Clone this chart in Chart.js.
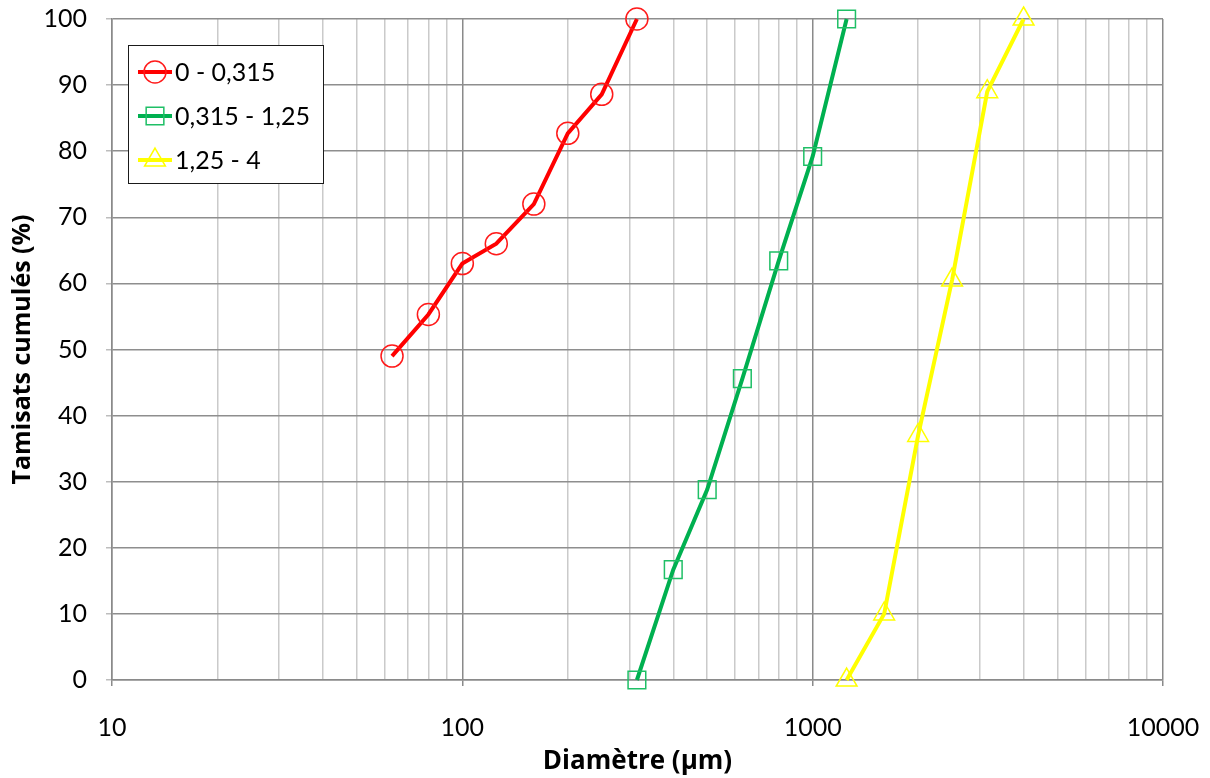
<!DOCTYPE html>
<html lang="fr">
<head>
<meta charset="utf-8">
<title>Courbes granulométriques</title>
<script src="https://cdn.jsdelivr.net/npm/chart.js@4/dist/chart.umd.min.js"></script>
<style>
  html, body { margin: 0; padding: 0; background: #ffffff; }
  #wrap { width: 1210px; height: 778px; position: relative; }
</style>
</head>
<body>
<div id="wrap"><canvas id="granulo" width="1210" height="778"></canvas></div>
<script>
// Sieve openings (µm) and cumulative passing (%) per sand fraction
const sieves1 = [63, 80, 100, 125, 160, 200, 250, 315];
const passing1 = [49, 55.3, 63, 66, 72, 82.7, 88.6, 100];

const sieves2 = [315, 400, 500, 630, 800, 1000, 1250];
const passing2 = [0, 16.7, 28.8, 45.6, 63.4, 79.2, 100];

const sieves3 = [1250, 1600, 2000, 2500, 3150, 4000];
const passing3 = [0, 10, 37, 60.5, 89, 100];

const seriesLabels = ['0 - 0,315', '0,315 - 1,25', '1,25 - 4'];

// Axis labelling
const xDecades = [10, 100, 1000, 10000];
const xTickLabels = ['10', '100', '1000', '10000'];
const xTitle = 'Diamètre (µm)';
const yTitle = 'Tamisats cumulés (%)';

// Log grid: 1..9 × each decade, up to the last decade
const xGridValues = [];
xDecades.forEach((d, i) => {
  if (i === xDecades.length - 1) { xGridValues.push(d); return; }
  for (let k = 1; k <= 9; k++) xGridValues.push(d * k);
});

const pairs = (xs, ys) => xs.map((x, i) => ({ x: x, y: ys[i] }));

const FONT = 'Lato, "Open Sans", "DejaVu Sans", sans-serif';
const TITLE_FONT = '"Open Sans", Lato, "DejaVu Sans", sans-serif';

// Legend box drawn inside the plot area (upper left)
const innerLegend = {
  id: 'innerLegend',
  afterDraw(chart) {
    const ctx = chart.ctx;
    const bx = 128.5, by = 45.5, bw = 195, bh = 138;
    ctx.save();
    ctx.fillStyle = '#ffffff';
    ctx.fillRect(bx, by, bw, bh);
    ctx.strokeStyle = '#1a1a1a';
    ctx.lineWidth = 1;
    ctx.strokeRect(bx, by, bw, bh);
    const rows = [72, 116, 160];
    chart.data.datasets.forEach((ds, i) => {
      const y = rows[i];
      ctx.strokeStyle = ds.borderColor;
      ctx.lineWidth = ds.borderWidth;
      ctx.beginPath();
      ctx.moveTo(138, y);
      ctx.lineTo(172, y);
      ctx.stroke();
      const opts = {
        pointStyle: ds.pointStyle,
        radius: ds.pointRadius,
        borderWidth: ds.pointBorderWidth,
        rotation: 0
      };
      ctx.strokeStyle = ds.pointBorderColor;
      ctx.fillStyle = 'rgba(0,0,0,0)';
      ctx.lineWidth = ds.pointBorderWidth;
      Chart.helpers.drawPoint(ctx, opts, 155, y);
      ctx.fillStyle = '#000000';
      ctx.font = '25px ' + FONT;
      ctx.textAlign = 'left';
      ctx.textBaseline = 'middle';
      ctx.fillText(ds.label, 175, y + 1);
    });
    ctx.restore();
  }
};

const baseSet = {
  showLine: true,
  clip: false,
  borderWidth: 4,
  pointBackgroundColor: 'rgba(0,0,0,0)',
  pointBorderWidth: 1.5,
  tension: 0
};

new Chart(document.getElementById('granulo'), {
  type: 'scatter',
  data: {
    datasets: [
      Object.assign({}, baseSet, {
        label: seriesLabels[0],
        data: pairs(sieves1, passing1),
        borderColor: '#ff0000',
        pointBorderColor: '#ff1a1a',
        pointStyle: 'circle',
        pointRadius: 11,
        pointHoverRadius: 11
      }),
      Object.assign({}, baseSet, {
        label: seriesLabels[1],
        data: pairs(sieves2, passing2),
        borderColor: '#00b050',
        pointBorderColor: '#1fbf66',
        pointStyle: 'rect',
        pointRadius: 12.5,
        pointHoverRadius: 12.5
      }),
      Object.assign({}, baseSet, {
        label: seriesLabels[2],
        data: pairs(sieves3, passing3),
        borderColor: '#ffff00',
        pointBorderColor: '#ffff00',
        pointStyle: 'triangle',
        pointRadius: 12,
        pointHoverRadius: 12
      })
    ]
  },
  options: {
    responsive: false,
    animation: false,
    layout: { padding: { top: 19, right: 47, left: 0, bottom: 0 } },
    plugins: {
      legend: { display: false },
      tooltip: { enabled: false }
    },
    scales: {
      x: {
        type: 'logarithmic',
        min: 10,
        max: 10000,
        afterBuildTicks(scale) {
          scale.ticks = xGridValues.map(v => ({ value: v, major: xDecades.includes(v) }));
        },
        afterFit(scale) {
          scale.height = 98;
          scale.paddingLeft = 0;
          scale.paddingRight = 0;
        },
        border: { color: '#8a8a8a', width: 1.5 },
        grid: {
          color: c => (c.tick && c.tick.major ? '#8a8a8a' : '#cacaca'),
          lineWidth: 1.5,
          tickColor: c => (c.tick && c.tick.major ? '#8a8a8a' : 'rgba(0,0,0,0)'),
          tickLength: 6
        },
        ticks: {
          autoSkip: false,
          maxRotation: 0,
          padding: 27,
          color: '#000000',
          font: { family: FONT, size: 25 },
          callback: v => {
            const i = xDecades.indexOf(v);
            return i >= 0 ? xTickLabels[i] : '';
          }
        },
        title: {
          display: true,
          text: xTitle,
          color: '#000000',
          font: { family: TITLE_FONT, size: 26, weight: 'bold' },
          padding: { top: 0, bottom: 1 }
        }
      },
      y: {
        min: 0,
        max: 100,
        afterFit(scale) {
          scale.width = 112;
          scale.paddingTop = 0;
          scale.paddingBottom = 0;
        },
        border: { color: '#8a8a8a', width: 1.5 },
        grid: {
          color: '#8e8e8e',
          lineWidth: 1.5,
          tickColor: '#bdbdbd',
          tickLength: 6
        },
        ticks: {
          stepSize: 10,
          padding: 19,
          color: '#000000',
          font: { family: FONT, size: 25 }
        },
        title: {
          display: true,
          text: yTitle,
          color: '#000000',
          font: { family: TITLE_FONT, size: 25, weight: 'bold' },
          padding: { top: 8, bottom: 0 }
        }
      }
    }
  },
  plugins: [innerLegend]
});
</script>
</body>
</html>
